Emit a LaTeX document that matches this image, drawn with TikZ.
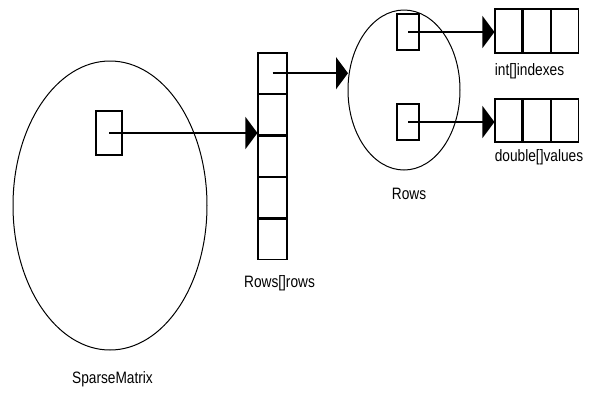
\documentclass[tikz,border=0pt]{standalone}
\usepackage{fontspec}
\setmainfont{Liberation Sans}
\usetikzlibrary{shapes.geometric,arrows.meta}
\newcommand{\narrowtxt}[1]{\scalebox{0.83}[1]{#1}}
\tikzset{
  obj/.style={ellipse, draw, line width=1pt, inner sep=0pt},
  ptrbox/.style={draw, line width=1.1pt, minimum width=22pt, minimum height=36pt, inner sep=0pt},
  vcell/.style={draw, line width=1.1pt, minimum width=29pt, minimum height=40.4pt, inner sep=0pt},
  hcell/.style={draw, line width=1.1pt, minimum width=27pt, minimum height=44pt, inner sep=0pt},
  lbl/.style={anchor=base, inner sep=0pt, font=\fontsize{16.5}{19}\selectfont},
  link/.style={line width=1.6pt, -{Triangle[length=12pt,width=32pt]}}
}
\begin{document}
\begin{tikzpicture}[x=1pt,y=-1pt]
\useasboundingbox (0,0) rectangle (595,392);
% SparseMatrix
\node[obj, minimum width=194pt, minimum height=289pt] (sm) at (110,205.5) {};
\node[ptrbox, minimum width=26pt, minimum height=44pt] (smptr) at (109,133) {};
\node[lbl] (smlbl) at (112.5,383) {\narrowtxt{SparseMatrix}};
% Rows[] rows array
\node[vcell] (r1) at (272.5,73.2) {};
\node[vcell, anchor=north] (r2) at (r1.south) {};
\node[vcell, anchor=north] (r3) at (r2.south) {};
\node[vcell, anchor=north] (r4) at (r3.south) {};
\node[vcell, anchor=north] (r5) at (r4.south) {};
\node[lbl] (rlbl) at (279.5,287) {\narrowtxt{Rows[]rows}};
% Rows object
\node[obj, minimum width=112pt, minimum height=160pt] (rows) at (404,90) {};
\node[ptrbox] (p1) at (408,32) {};
\node[ptrbox] (p2) at (408,122) {};
\node[lbl] (rowslbl) at (409,199) {\narrowtxt{Rows}};
% int[] indexes
\node[hcell] (i1) at (508.5,31) {};
\node[hcell, anchor=west] (i2) at (i1.east) {};
\node[hcell, anchor=west] (i3) at (i2.east) {};
\node[lbl] (ilbl) at (529.5,75) {\narrowtxt{int[]indexes}};
% double[] values
\node[hcell, minimum height=43pt] (v1) at (508.5,120.5) {};
\node[hcell, minimum height=43pt, anchor=west] (v2) at (v1.east) {};
\node[hcell, minimum height=43pt, anchor=west] (v3) at (v2.east) {};
\node[lbl] (vlbl) at (539,161) {\narrowtxt{double[]values}};
% connectors
\draw[link] (smptr.center) -- (smptr.center -| r2.south west);
\draw[link] (r1.center) -- ([xshift=0.5pt]r1.center -| rows.west);
\draw[link] (p1.center) -- (p1.center -| i1.west);
\draw[link] (p2.center) -- (p2.center -| v1.west);
\end{tikzpicture}
\end{document}
